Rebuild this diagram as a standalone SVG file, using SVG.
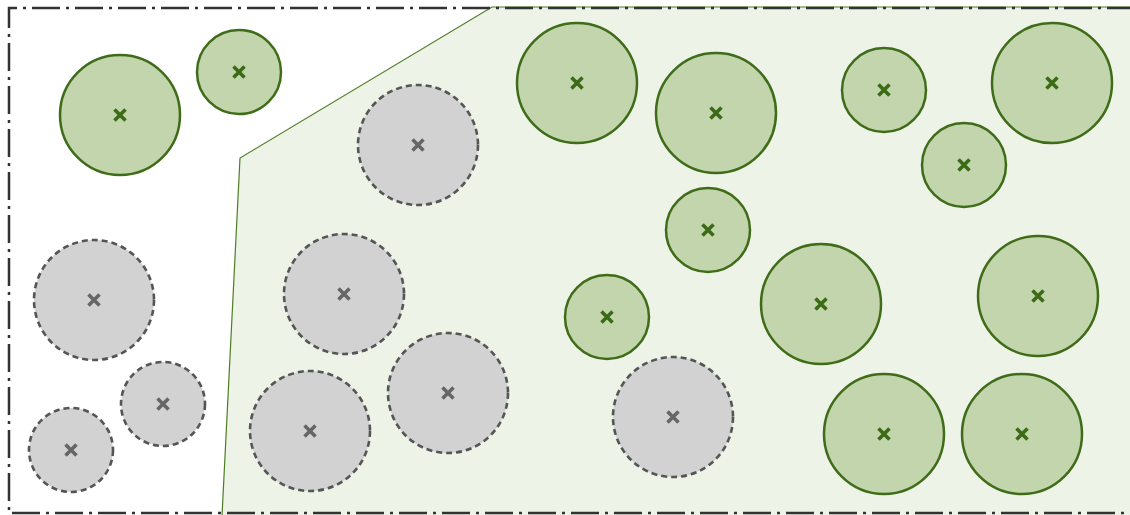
<svg xmlns="http://www.w3.org/2000/svg" width="1130" height="515" viewBox="0 0 1130 515">
<defs>
<style>
.zone{fill:#edf3e7;stroke:#4e7d24;stroke-width:1.2}
.border{fill:none;stroke:#333333;stroke-width:2.5;stroke-dasharray:28 6 3 6}
.g circle{fill:#c3d5ad;stroke:#3f6c18;stroke-width:2.5}
.d circle{fill:#d2d2d2;stroke:#555555;stroke-width:2.6;stroke-dasharray:6 4}
.g path{stroke:#3b6b16;stroke-width:3.6;fill:none}
.d path{stroke:#666666;stroke-width:3.6;fill:none}
</style>
</defs>
<rect width="1130" height="515" fill="#ffffff"/>
<g id="zone"><polygon class="zone" points="222,516 240,158 492,7 1132,7 1132,516"/></g>
<g id="border"><path class="border" d="M1135,8 H9 V513 H1135"/></g>
<g id="g1" class="g"><circle cx="120" cy="115" r="60"/><path d="M114.5,109.5 L125.5,120.5 M125.5,109.5 L114.5,120.5"/></g>
<g id="g2" class="g"><circle cx="239" cy="72" r="42"/><path d="M233.5,66.5 L244.5,77.5 M244.5,66.5 L233.5,77.5"/></g>
<g id="g3" class="g"><circle cx="577" cy="83" r="60"/><path d="M571.5,77.5 L582.5,88.5 M582.5,77.5 L571.5,88.5"/></g>
<g id="g4" class="g"><circle cx="716" cy="113" r="60"/><path d="M710.5,107.5 L721.5,118.5 M721.5,107.5 L710.5,118.5"/></g>
<g id="g5" class="g"><circle cx="884" cy="90" r="42"/><path d="M878.5,84.5 L889.5,95.5 M889.5,84.5 L878.5,95.5"/></g>
<g id="g6" class="g"><circle cx="1052" cy="83" r="60"/><path d="M1046.5,77.5 L1057.5,88.5 M1057.5,77.5 L1046.5,88.5"/></g>
<g id="g7" class="g"><circle cx="964" cy="165" r="42"/><path d="M958.5,159.5 L969.5,170.5 M969.5,159.5 L958.5,170.5"/></g>
<g id="g8" class="g"><circle cx="708" cy="230" r="42"/><path d="M702.5,224.5 L713.5,235.5 M713.5,224.5 L702.5,235.5"/></g>
<g id="g9" class="g"><circle cx="607" cy="317" r="42"/><path d="M601.5,311.5 L612.5,322.5 M612.5,311.5 L601.5,322.5"/></g>
<g id="g10" class="g"><circle cx="821" cy="304" r="60"/><path d="M815.5,298.5 L826.5,309.5 M826.5,298.5 L815.5,309.5"/></g>
<g id="g11" class="g"><circle cx="1038" cy="296" r="60"/><path d="M1032.5,290.5 L1043.5,301.5 M1043.5,290.5 L1032.5,301.5"/></g>
<g id="g12" class="g"><circle cx="884" cy="434" r="60"/><path d="M878.5,428.5 L889.5,439.5 M889.5,428.5 L878.5,439.5"/></g>
<g id="g13" class="g"><circle cx="1022" cy="434" r="60"/><path d="M1016.5,428.5 L1027.5,439.5 M1027.5,428.5 L1016.5,439.5"/></g>
<g id="d1" class="d"><circle cx="418" cy="145" r="60"/><path d="M412.5,139.5 L423.5,150.5 M423.5,139.5 L412.5,150.5"/></g>
<g id="d2" class="d"><circle cx="94" cy="300" r="60"/><path d="M88.5,294.5 L99.5,305.5 M99.5,294.5 L88.5,305.5"/></g>
<g id="d3" class="d"><circle cx="344" cy="294" r="60"/><path d="M338.5,288.5 L349.5,299.5 M349.5,288.5 L338.5,299.5"/></g>
<g id="d4" class="d"><circle cx="163" cy="404" r="42"/><path d="M157.5,398.5 L168.5,409.5 M168.5,398.5 L157.5,409.5"/></g>
<g id="d5" class="d"><circle cx="71" cy="450" r="42"/><path d="M65.5,444.5 L76.5,455.5 M76.5,444.5 L65.5,455.5"/></g>
<g id="d6" class="d"><circle cx="310" cy="431" r="60"/><path d="M304.5,425.5 L315.5,436.5 M315.5,425.5 L304.5,436.5"/></g>
<g id="d7" class="d"><circle cx="448" cy="393" r="60"/><path d="M442.5,387.5 L453.5,398.5 M453.5,387.5 L442.5,398.5"/></g>
<g id="d8" class="d"><circle cx="673" cy="417" r="60"/><path d="M667.5,411.5 L678.5,422.5 M678.5,411.5 L667.5,422.5"/></g>
</svg>
